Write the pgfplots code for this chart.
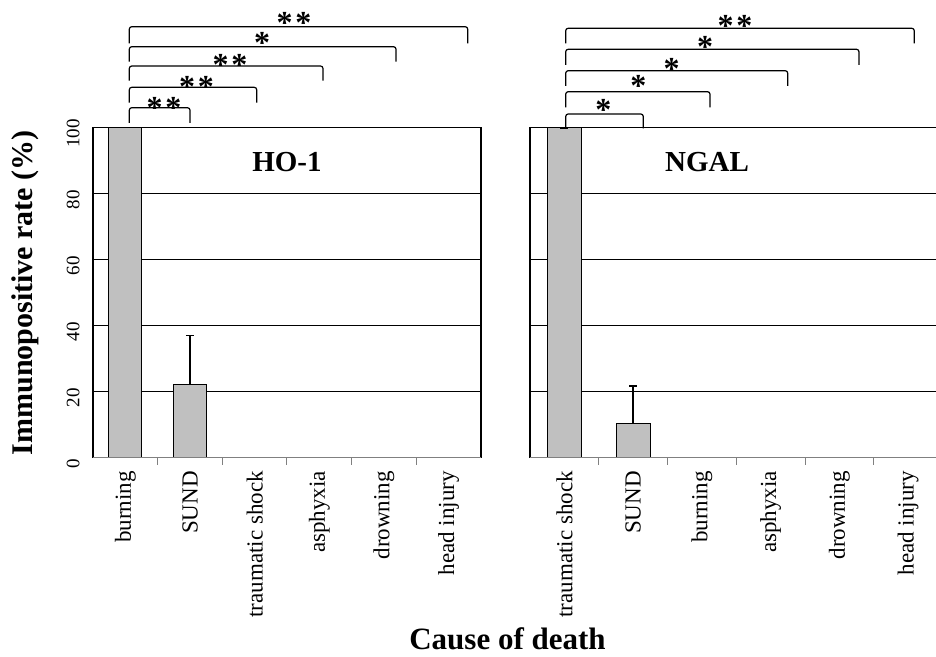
\documentclass[border=0pt]{standalone}
\usepackage{pgfplots}
\pgfplotsset{compat=1.18}
\usepackage{fontspec}
\setmainfont{Liberation Serif}
\definecolor{barfill}{RGB}{192,192,192}
\definecolor{axgray}{RGB}{128,128,128}
\newcommand{\starfont}{\fontsize{32}{32}\selectfont\bfseries}
\newcommand{\brk}[4]{\draw[line width=1.2pt, rounded corners=2.5pt] (#1,#4) -- (#1,#3) -- (#2,#3) -- (#2,#4);}
\newcommand{\sig}[3]{\node[font=\starfont, inner sep=0pt, anchor=base] at (#1,#2-15.1) {#3};}
\newcommand{\two}{*\kern3pt*}
\begin{document}
\begin{tikzpicture}[x=1pt,y=1pt]
\useasboundingbox (0,0) rectangle (936,656);
\pgfplotsset{
 panel/.style={
  anchor=south west, scale only axis, height=330pt,
  ymin=0, ymax=100, xmin=-0.5, xmax=5.5,
  ytick={0,20,...,100}, ymajorgrids, grid style={black, line width=1.1pt},
  axis line style={black, line width=1.1pt},
  major tick length=0pt,
  xtick={0,...,5},
  minor xtick={0.5,1.5,...,4.5}, minor x tick style={axgray, line width=1pt},
  minor tick length=7pt, tick align=inside, xtick pos=bottom, ytick pos=left,
  xticklabel style={yshift=-10pt, rotate=90, anchor=east, font=\fontsize{23}{23}\selectfont},
  yticklabel style={xshift=-10pt, yshift=-6pt, rotate=90, anchor=south, font=\fontsize{19}{19}\selectfont},
  ybar, bar shift=0pt,
  /pgf/number format/assume math mode=true,
 },
 barst/.style={fill=barfill, draw=black, line width=1.1pt},
 errst/.style={error bars/.cd, y dir=plus, y explicit,
   error bar style={line width=1.8pt, black},
   error mark=-,
   error mark options={black, line width=1.8pt, mark size=4pt, rotate=90}},
}
% ---------- HO-1 ----------
\begin{axis}[panel, at={(93pt,198.3pt)}, width=388pt, bar width=33pt,
  xticklabels={burning, SUND, traumatic shock, asphyxia, drowning, head injury},
  ylabel={\textbf{Immunopositive rate (\%)}},
  ylabel style={at={(axis description cs:-0.175,0.5)}, anchor=center, font=\fontsize{30}{30}\selectfont},
]
\addplot[barst] coordinates {(0,100) (2,0) (3,0) (4,0) (5,0)};
\addplot[barst, errst] coordinates {(1,22.3) +- (0,14.7)};
\draw[axgray, line width=1.5pt] (axis cs:-0.5,0) -- (axis cs:5.5,0);
\end{axis}
% ---------- NGAL ----------
\begin{axis}[panel, at={(530pt,198.3pt)}, width=412.5pt, bar width=34pt,
  xticklabels={traumatic shock, SUND, burning, asphyxia, drowning, head injury},
  yticklabels={},
]
\addplot[barst, errst] coordinates {(0,100) +- (0,0)};
\addplot[barst, errst] coordinates {(1,10.3) +- (0,11.5)};
\draw[axgray, line width=1.5pt] (axis cs:-0.5,0) -- (axis cs:5.5,0);
\end{axis}
% panel titles
\node[font=\fontsize{29}{29}\selectfont\bfseries, anchor=base] at (287,484.3) {HO-1};
\node[font=\fontsize{29}{29}\selectfont\bfseries, anchor=base] at (707,484.3) {NGAL};
% x label
\node[font=\fontsize{31}{31}\selectfont\bfseries, anchor=base] at (507.5,7) {Cause of death};
% significance brackets, HO-1
\brk{129.3}{190}{548.3}{533}
\brk{129.3}{256.7}{568.7}{553.3}
\brk{129.3}{323}{590}{575.3}
\brk{129.3}{396}{609.3}{594.3}
\brk{129.3}{467.7}{629.3}{612.7}
\sig{164}{552.7}{\two}
\sig{196.5}{574}{\two}
\sig{230}{596}{\two}
\sig{262}{617.7}{*}
\sig{294}{638}{\two}
% significance brackets, NGAL
\brk{565.7}{643.3}{542}{527.7}
\brk{565.7}{710}{564.3}{548.7}
\brk{565.7}{787.7}{585.3}{570}
\brk{565.7}{859}{606.7}{591}
\brk{565.7}{914.3}{627.7}{612.7}
\sig{603.3}{551}{*}
\sig{638.3}{574.3}{*}
\sig{671.7}{592}{*}
\sig{705}{613.3}{*}
\sig{735}{634.3}{\two}
\end{tikzpicture}
\end{document}
